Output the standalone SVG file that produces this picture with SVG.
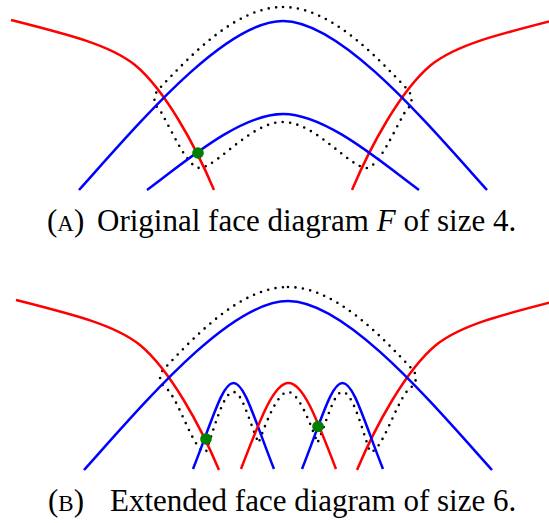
<svg xmlns="http://www.w3.org/2000/svg" width="549" height="523" viewBox="0 0 549 523">
<style>
.red{fill:none;stroke:#ff0000;stroke-width:2.5}
.blue{fill:none;stroke:#0000ff;stroke-width:2.5}
.dot{fill:none;stroke:#000;stroke-width:2.6;stroke-dasharray:0 7.5;stroke-linecap:round}
.v{fill:#008000}
.cap{font-family:"Liberation Serif","Times New Roman",serif;font-size:31px;fill:#000}
</style>
<rect width="549" height="523" fill="#fff"/>
<g id="diagram-a">
  <g id="a-connectors">
    <path id="a-dotted" class="dot" d="M283,7 C330,7 375,55 408,90 C414,98 412,105 405,112 C392,135 378,168 366,168 C348,166 315,122 283,122 C251,122 218,166 200,168 C188,168 174,135 161,112 C154,105 152,98 158,90 C191,55 236,7 283,7 Z"/>
    <path id="a-red-left" class="red" d="M11,20 C70,35 110,45 135,65 C165,90 195,145 214,190"/>
    <path id="a-red-right" class="red" d="M555,20 C496,35 456,45 431,65 C401,90 371,145 352,190"/>
    <path id="a-blue-outer" class="blue" d="M79,190 C140,122 225,21 283,21 C341,21 426,122 487,190"/>
    <path id="a-blue-inner" class="blue" d="M147,190 C185,162 240,114 283,114 C326,114 381,162 419,190"/>
  </g>
  <g id="a-vertex"><circle class="v" cx="198" cy="153" r="5.8"/></g>
  <text id="a-caption" class="cap" y="231"><tspan x="47">(<tspan font-size="23">A</tspan>)</tspan><tspan x="97">Original face diagram <tspan font-style="italic">F</tspan> of size 4.</tspan></text>
</g>
<g id="diagram-b">
  <g id="b-connectors">
    <path id="b-dotted" class="dot" d="M288,287 C335,287 380,335 413,370 C419,378 415,385 408,390 C395,405 382,452 370,452 C360,422 352,392 342.5,392 C334,392 328,418 317.5,443 C309,420 298,392 288,392 C278,392 267,420 258.5,443 C248,418 242,392 233.5,392 C224,392 216,422 206,452 C194,452 181,405 168,390 C161,385 157,378 163,370 C196,335 241,287 288,287 Z"/>
    <path id="b-red-left" class="red" d="M16,300 C75,315 115,325 140,345 C170,370 200,425 219,470"/>
    <path id="b-red-right" class="red" d="M560,300 C501,315 461,325 436,345 C406,370 376,425 357,470"/>
    <path id="b-blue-outer" class="blue" d="M84,470 C145,402 230,301 288,301 C346,301 431,402 492,470"/>
    <path id="b-blue-bump1" class="blue" d="M193,469 C213,418 222.5,383 233.5,383 C244.5,383 254,418 274,469"/>
    <path id="b-red-bump" class="red" d="M241,469 C261,417 274,383 288.5,383 C303,383 316,417 336,469"/>
    <path id="b-blue-bump2" class="blue" d="M302,469 C322,418 331.5,383 342.5,383 C353.5,383 363,418 383,469"/>
  </g>
  <g id="b-vertex-1"><circle class="v" cx="206" cy="439" r="5.8"/></g>
  <g id="b-vertex-2"><circle class="v" cx="318" cy="426.5" r="5.8"/></g>
  <text id="b-caption" class="cap" y="511"><tspan x="48">(<tspan font-size="23">B</tspan>)</tspan><tspan x="110">Extended face diagram of size 6.</tspan></text>
</g>
</svg>
